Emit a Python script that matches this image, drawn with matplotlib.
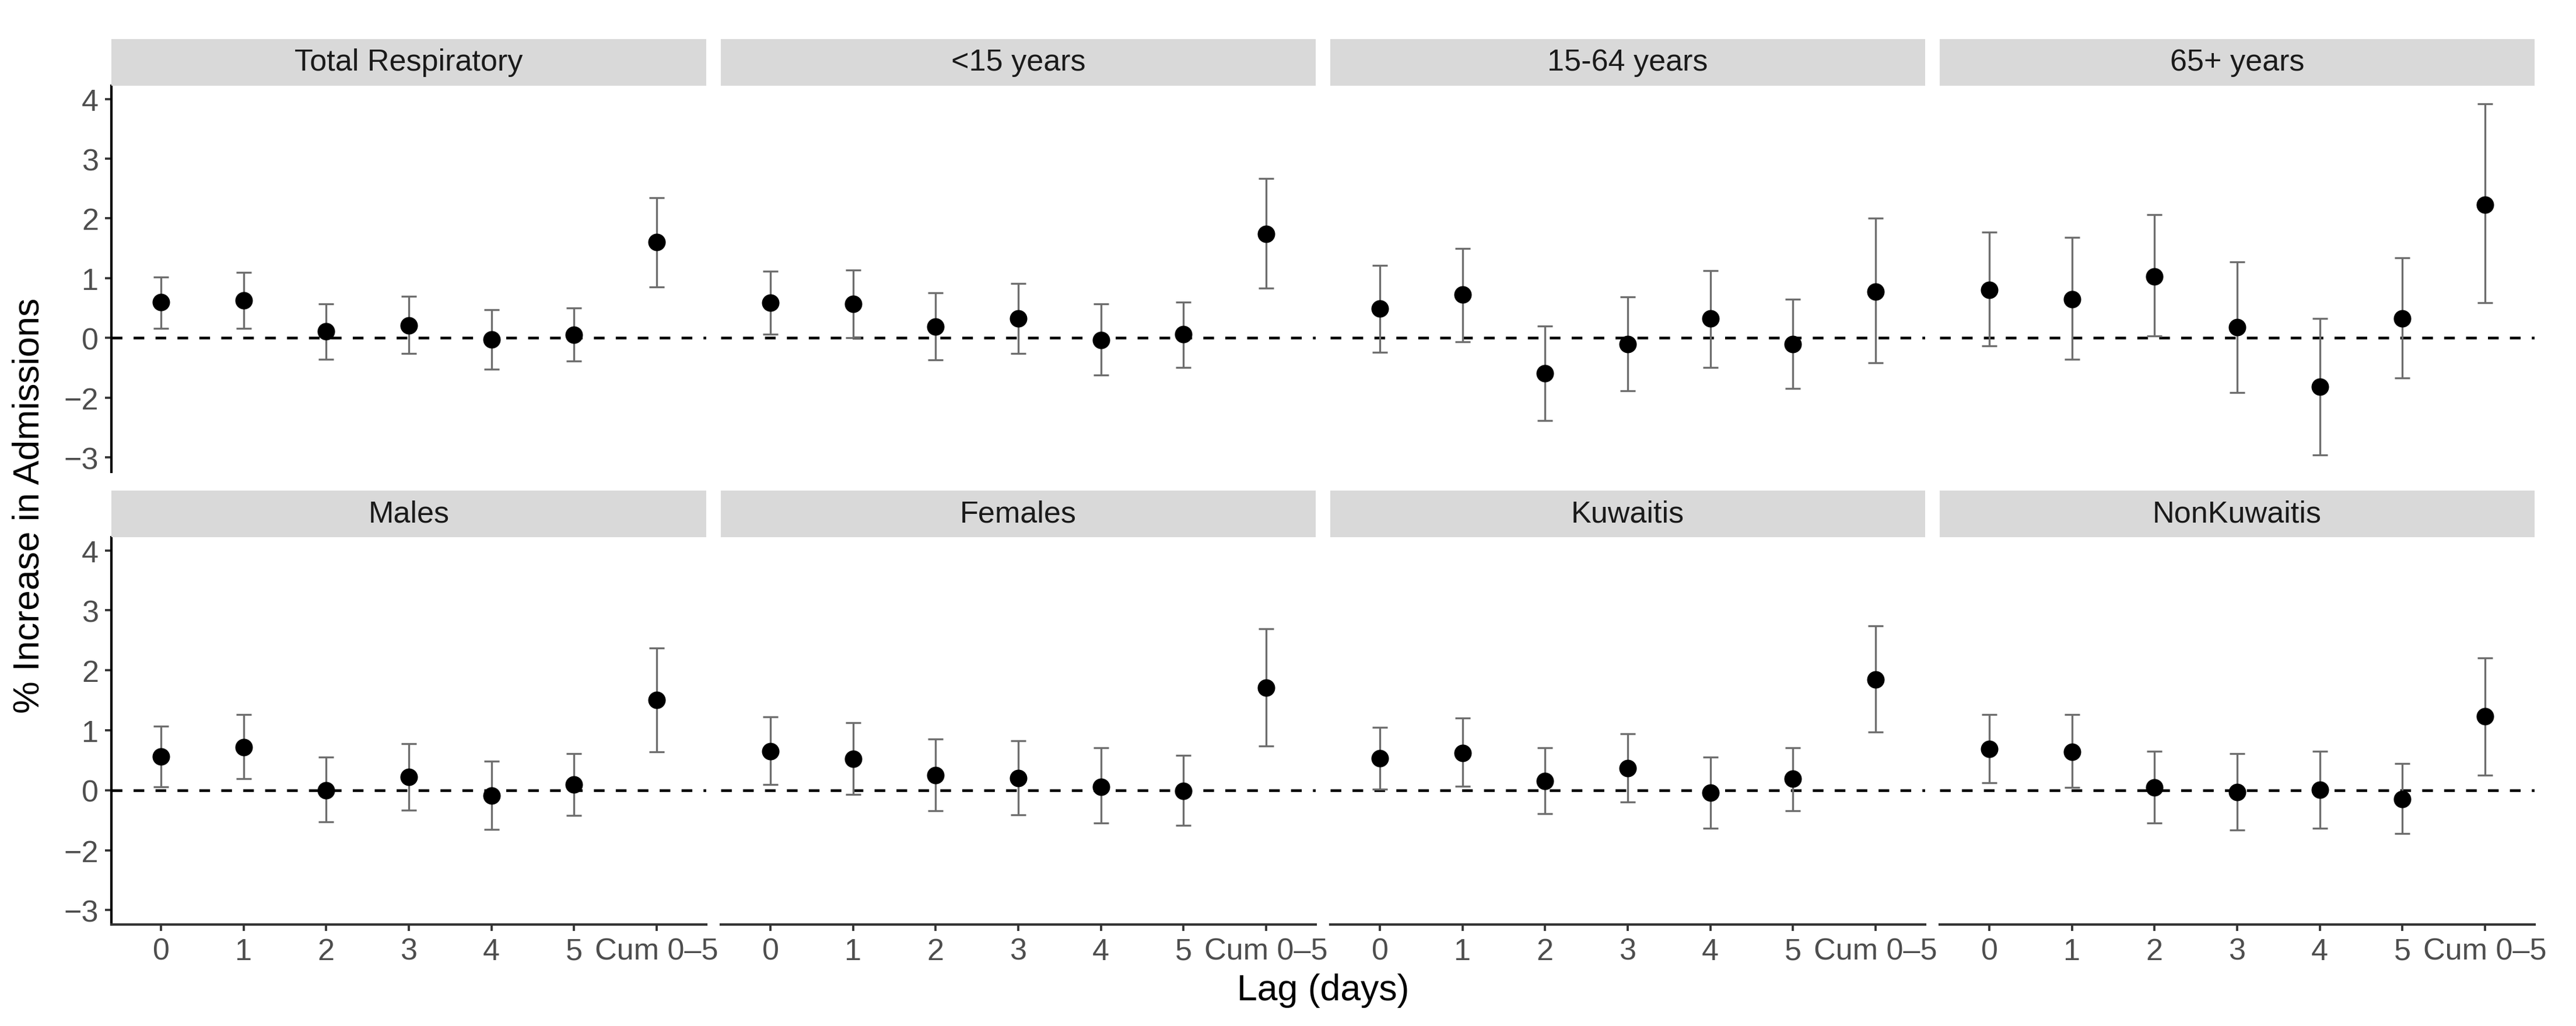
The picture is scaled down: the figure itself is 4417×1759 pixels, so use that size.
import matplotlib
matplotlib.use('Agg')
import matplotlib.pyplot as plt

plt.rcParams['font.family'] = ['Liberation Sans', 'DejaVu Sans']

panels = ['Total Respiratory', '<15 years', '15-64 years', '65+ years',
          'Males', 'Females', 'Kuwaitis', 'NonKuwaitis']
lags = ['0', '1', '2', '3', '4', '5', 'Cum 0\u20135']

# y positions of the ticks and the labels printed at them (as in the original)
ytick_pos = [4, 3, 2, 1, 0, -1, -2]
ytick_labels = ['4', '3', '2', '1', '0', '\u22122', '\u22123']

# point estimates, one row per panel, lags 0..5 then cumulative
est = [
    [0.60, 0.63, 0.11, 0.21, -0.02, 0.05, 1.60],
    [0.59, 0.57, 0.19, 0.33, -0.03, 0.065, 1.74],
    [0.49, 0.73, -0.59, -0.10, 0.33, -0.10, 0.78],
    [0.80, 0.65, 1.03, 0.18, -0.82, 0.33, 2.23],
    [0.56, 0.715, 0.0, 0.225, -0.09, 0.096, 1.51],
    [0.65, 0.52, 0.25, 0.20, 0.06, -0.01, 1.71],
    [0.535, 0.625, 0.15, 0.37, -0.04, 0.19, 1.85],
    [0.69, 0.64, 0.045, -0.03, 0.005, -0.15, 1.23],
]
lower = [
    [0.165, 0.165, -0.36, -0.26, -0.52, -0.39, 0.85],
    [0.065, 0.0, -0.37, -0.26, -0.62, -0.49, 0.83],
    [-0.24, -0.06, -1.38, -0.88, -0.49, -0.84, -0.42],
    [-0.13, -0.36, 0.035, -0.91, -1.96, -0.67, 0.59],
    [0.056, 0.19, -0.53, -0.33, -0.65, -0.42, 0.64],
    [0.096, -0.07, -0.34, -0.41, -0.55, -0.59, 0.74],
    [0.02, 0.07, -0.39, -0.20, -0.63, -0.34, 0.97],
    [0.12, 0.05, -0.55, -0.66, -0.63, -0.72, 0.25],
]
upper = [
    [1.02, 1.10, 0.57, 0.70, 0.47, 0.50, 2.35],
    [1.12, 1.14, 0.76, 0.91, 0.57, 0.60, 2.67],
    [1.21, 1.50, 0.20, 0.69, 1.13, 0.65, 2.00],
    [1.77, 1.68, 2.06, 1.27, 0.33, 1.34, 3.92],
    [1.065, 1.26, 0.55, 0.78, 0.48, 0.61, 2.37],
    [1.22, 1.13, 0.85, 0.82, 0.71, 0.58, 2.69],
    [1.05, 1.20, 0.71, 0.94, 0.55, 0.71, 2.74],
    [1.26, 1.26, 0.65, 0.61, 0.65, 0.45, 2.21],
]

W, H = 4417, 1760
fig = plt.figure(figsize=(W / 300, H / 300), dpi=300)
fig.patch.set_facecolor('white')

left, right, gap = 191, 4346, 25
pw = (right - left - 3 * gap) / 4
rows = [(148, 810), (922, 1586)]
strip_h = 80

x = list(range(len(lags)))

for i, name in enumerate(panels):
    r, c = divmod(i, 4)
    x0 = left + c * (pw + gap)
    y0, y1 = rows[r]
    ax = fig.add_axes([x0 / W, 1 - y1 / H, pw / W, (y1 - y0) / H])
    strip = fig.add_axes([x0 / W, 1 - y0 / H, pw / W, strip_h / H])
    strip.set_facecolor('#D9D9D9')
    strip.set_xticks([])
    strip.set_yticks([])
    for s in strip.spines.values():
        s.set_visible(False)
    strip.text(0.5, 0.5, name, ha='center', va='center', fontsize=12.5,
               color='#1A1A1A', transform=strip.transAxes)

    e, lo, hi = est[i], lower[i], upper[i]
    yerr = [[a - b for a, b in zip(e, lo)], [b - a for a, b in zip(e, hi)]]
    ax.axhline(0, color='black', lw=1.1, ls=(0, (4.0, 4.2)), zorder=1)
    ax.errorbar(x, e, yerr=yerr, fmt='none', ecolor='#6E6E6E',
                elinewidth=0.8, capsize=3.2, capthick=0.8, zorder=2)
    ax.plot(x, e, 'o', color='black', markersize=6.2, zorder=3)

    ax.set_xlim(-0.6, 6.6)
    ax.set_ylim(-2.24, 4.22)
    for s in ['top', 'right']:
        ax.spines[s].set_visible(False)
    ax.spines['left'].set_visible(c == 0)
    ax.spines['bottom'].set_visible(r == 1)
    ax.spines['left'].set_linewidth(1.0)
    ax.spines['left'].set_color('black')
    ax.spines['bottom'].set_linewidth(1.0)
    ax.spines['bottom'].set_color('#333333')

    ax.set_xticks(x)
    ax.set_xticklabels(lags)
    ax.set_yticks(ytick_pos)
    ax.set_yticklabels(ytick_labels)
    ax.tick_params(axis='both', colors='#333333', labelcolor='#4D4D4D',
                   labelsize=12.5, length=2.75, width=0.9, pad=2.5)
    ax.tick_params(axis='y', left=(c == 0), labelleft=(c == 0))
    ax.tick_params(axis='x', bottom=(r == 1), labelbottom=(r == 1))

fig.text((left + right) / 2 / W, 1 - 1699 / H, 'Lag (days)',
         ha='center', va='center', fontsize=15)
fig.text(50 / W, 1 - ((rows[0][0] + rows[1][1]) / 2) / H,
         '% Increase in Admissions', ha='center', va='center',
         rotation=90, fontsize=15)

fig.savefig('out.png', dpi=300)
